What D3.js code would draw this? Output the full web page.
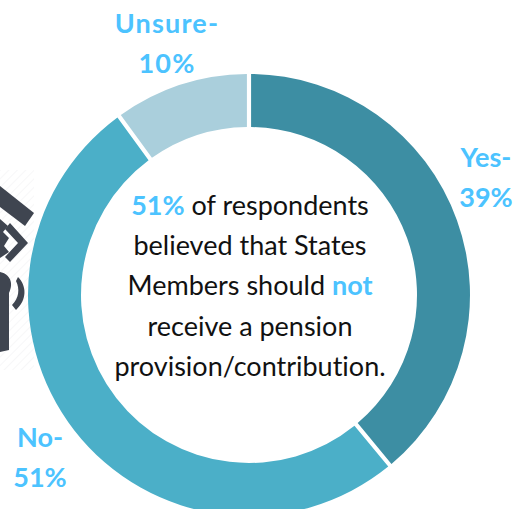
<!DOCTYPE html>
<html><head><meta charset="utf-8">
<script src="https://cdn.jsdelivr.net/npm/d3@7"></script>
<style>html,body{margin:0;padding:0;background:#fff;}svg{display:block;}text{font-variant-ligatures:none;font-feature-settings:"liga" 0;}</style>
</head><body>
<script>
const categories = ["Yes", "No", "Unsure"];
const values = [39, 51, 10];
const colors = ["#3d8ea3", "#4bafc8", "#aacfdc"];
const labelLines = [["Yes-", "39%"], ["No-", "51%"], ["Unsure-", "10%"]];
const centerLines = [
  [["51%", true], [" of respondents", false]],
  [["believed that States", false]],
  [["Members should ", false], ["not", true]],
  [["receive a pension", false]],
  [["provision/contribution.", false]]
];

const W = 528, H = 509;
const cx = 249, cy = 295, rOuter = 221, rInner = 168;
const FONT = "Lato, 'Open Sans', sans-serif";
const LBL = "#4cc3ff";

const svg = d3.select("body").append("svg").attr("width", W).attr("height", H);

// faint hatch pattern (decorative background)
const defs = svg.append("defs");
const pat = defs.append("pattern").attr("id", "hatch").attr("patternUnits", "userSpaceOnUse")
  .attr("width", 6).attr("height", 6).attr("patternTransform", "rotate(45)");
pat.append("line").attr("x1", 0).attr("y1", 0).attr("x2", 0).attr("y2", 6)
  .attr("stroke", "#f1f2f3").attr("stroke-width", 1.2);
svg.append("rect").attr("x", 0).attr("y", 170).attr("width", 34).attr("height", 200).attr("fill", "url(#hatch)");

// decorative dark icon (partially visible on the left edge)
const icon = svg.append("g").attr("fill", "#3f4550");
icon.append("path").attr("d", "M0,186 L34,213 L25,226 L0,207 Z");
icon.append("path").attr("d", "M0,219 L8,226 L3,232 L9,238 L4,246 L9,252 L0,258 Z");
icon.append("path").attr("d", "M10,223 L28,243 L10,262 L5,257 L18,243 L5,229 Z");
icon.append("path").attr("d", "M0,272 C10,274 14,283 9,293 L9,350 L0,352 Z");
icon.append("path").attr("d", "M18,277 C27,286 27,300 16,310 L12,305 C19,298 20,289 16,281 Z");

// donut
const pie = d3.pie().sort(null).value(d => d.v).startAngle(0).endAngle(2 * Math.PI);
const arcs = pie(categories.map((c, i) => ({c, v: values[i], col: colors[i]})));
const arc = d3.arc().innerRadius(rInner).outerRadius(rOuter).padAngle(0.022).padRadius(190);
const g = svg.append("g").attr("transform", `translate(${cx},${cy})`);
g.selectAll("path.slice").data(arcs).join("path").attr("class", "slice")
  .attr("d", arc).attr("fill", d => d.data.col);

// outer labels
const labelPos = {Yes: [486, 167], No: [40, 447], Unsure: [167, 33]};
categories.forEach((c, i) => {
  const [x, y] = labelPos[c];
  const t = svg.append("text").attr("x", x).attr("y", y).attr("text-anchor", "middle")
    .attr("font-family", FONT).attr("font-weight", "bold").attr("font-size", 27).attr("fill", LBL);
  if (c === "Unsure") t.attr("letter-spacing", 1.2);
  labelLines[i].forEach((s, k) => {
    t.append("tspan").attr("x", x).attr("y", y + k * 40).text(s);
  });
});

// center text
const ct = svg.append("text").attr("text-anchor", "middle").attr("font-family", FONT)
  .attr("font-size", 27).attr("fill", "#111");
centerLines.forEach((line, k) => {
  const y = 215 + k * 40.2;
  const first = ct.append("tspan").attr("x", 250).attr("y", y);
  line.forEach(([s, hi], j) => {
    const ts = j === 0 ? first : ct.append("tspan");
    ts.text(s);
    if (hi) ts.attr("font-weight", "bold").attr("fill", LBL);
  });
});
</script>
</body></html>
